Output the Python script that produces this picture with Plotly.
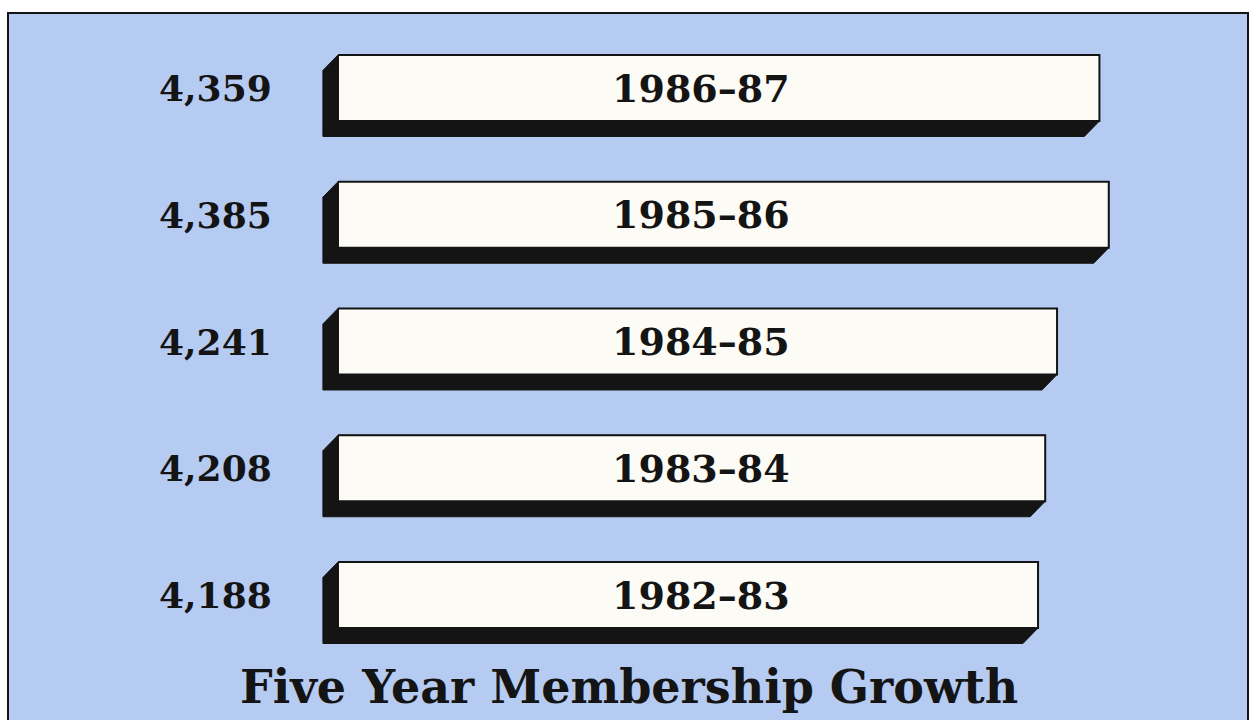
import plotly.graph_objects as go

# ---- data ----
periods = ["1986–87", "1985–86", "1984–85", "1983–84", "1982–83"]
members = [4359, 4385, 4241, 4208, 4188]
value_labels = ["4,359", "4,385", "4,241", "4,208", "4,188"]
title_text = "Five Year Membership Growth"

# ---- style / layout constants ----
BAR_BASE = 2238          # visual origin of the bars (axis does not start at 0)
X_RANGE = [1321.6, 4770.1]
Y_RANGE = [4.986, -0.5838]
BAR_H = 0.521
SHADOW_DX = 42.0
SHADOW_DY = 0.122
BG_BLUE = "#b6cbf2"
FACE = "#fcfbf6"
INK = "#141414"
FONT = "DejaVu Serif"

fig = go.Figure()

ys = list(range(len(periods)))

for y, v in zip(ys, members):
    yt, yb = y - BAR_H / 2, y + BAR_H / 2
    b = BAR_BASE
    # extrusion shadow (computed from data)
    px = [b, v, v, v - SHADOW_DX, b - SHADOW_DX, b - SHADOW_DX, b]
    py = [yt, yt, yb, yb + SHADOW_DY, yb + SHADOW_DY, yt + SHADOW_DY, yt]
    fig.add_trace(go.Scatter(x=px, y=py, mode="lines", fill="toself",
                             fillcolor=INK, line=dict(color=INK, width=1),
                             hoverinfo="skip", showlegend=False))
    # bar face
    fig.add_trace(go.Scatter(x=[b, v, v, b, b], y=[yt, yt, yb, yb, yt],
                             mode="lines", fill="toself", fillcolor=FACE,
                             line=dict(color=INK, width=2),
                             hoverinfo="skip", showlegend=False))

# period labels inside bars
for y, p in zip(ys, periods):
    fig.add_annotation(x=0.559, xref="paper", y=y, yref="y", text=f"<b>{p}</b>",
                       showarrow=False, xanchor="center", yanchor="middle",
                       font=dict(family=FONT, size=38, color=INK))
# value labels left of bars
for y, t in zip(ys, value_labels):
    fig.add_annotation(x=0.1664, xref="paper", y=y, yref="y", text=f"<b>{t}</b>",
                       showarrow=False, xanchor="center", yanchor="middle",
                       font=dict(family=FONT, size=36, color=INK))

# title at bottom
fig.add_annotation(x=0.5008, xref="paper", y=0.047, yref="paper",
                   text=f"<b>{title_text}</b>", showarrow=False,
                   xanchor="center", yanchor="middle",
                   font=dict(family=FONT, size=46, color=INK))

fig.update_layout(
    width=1256, height=720,
    margin=dict(l=9, r=9, t=14, b=0),
    paper_bgcolor="white", plot_bgcolor=BG_BLUE,
    xaxis=dict(range=X_RANGE, showgrid=False, zeroline=False, showticklabels=False,
               ticks="", showline=True, linecolor=INK, linewidth=2, side="top", mirror=False),
    yaxis=dict(range=Y_RANGE, showgrid=False, zeroline=False, showticklabels=False,
               ticks="", showline=True, linecolor=INK, linewidth=2, mirror=True),
)

fig.write_html("out.html")
